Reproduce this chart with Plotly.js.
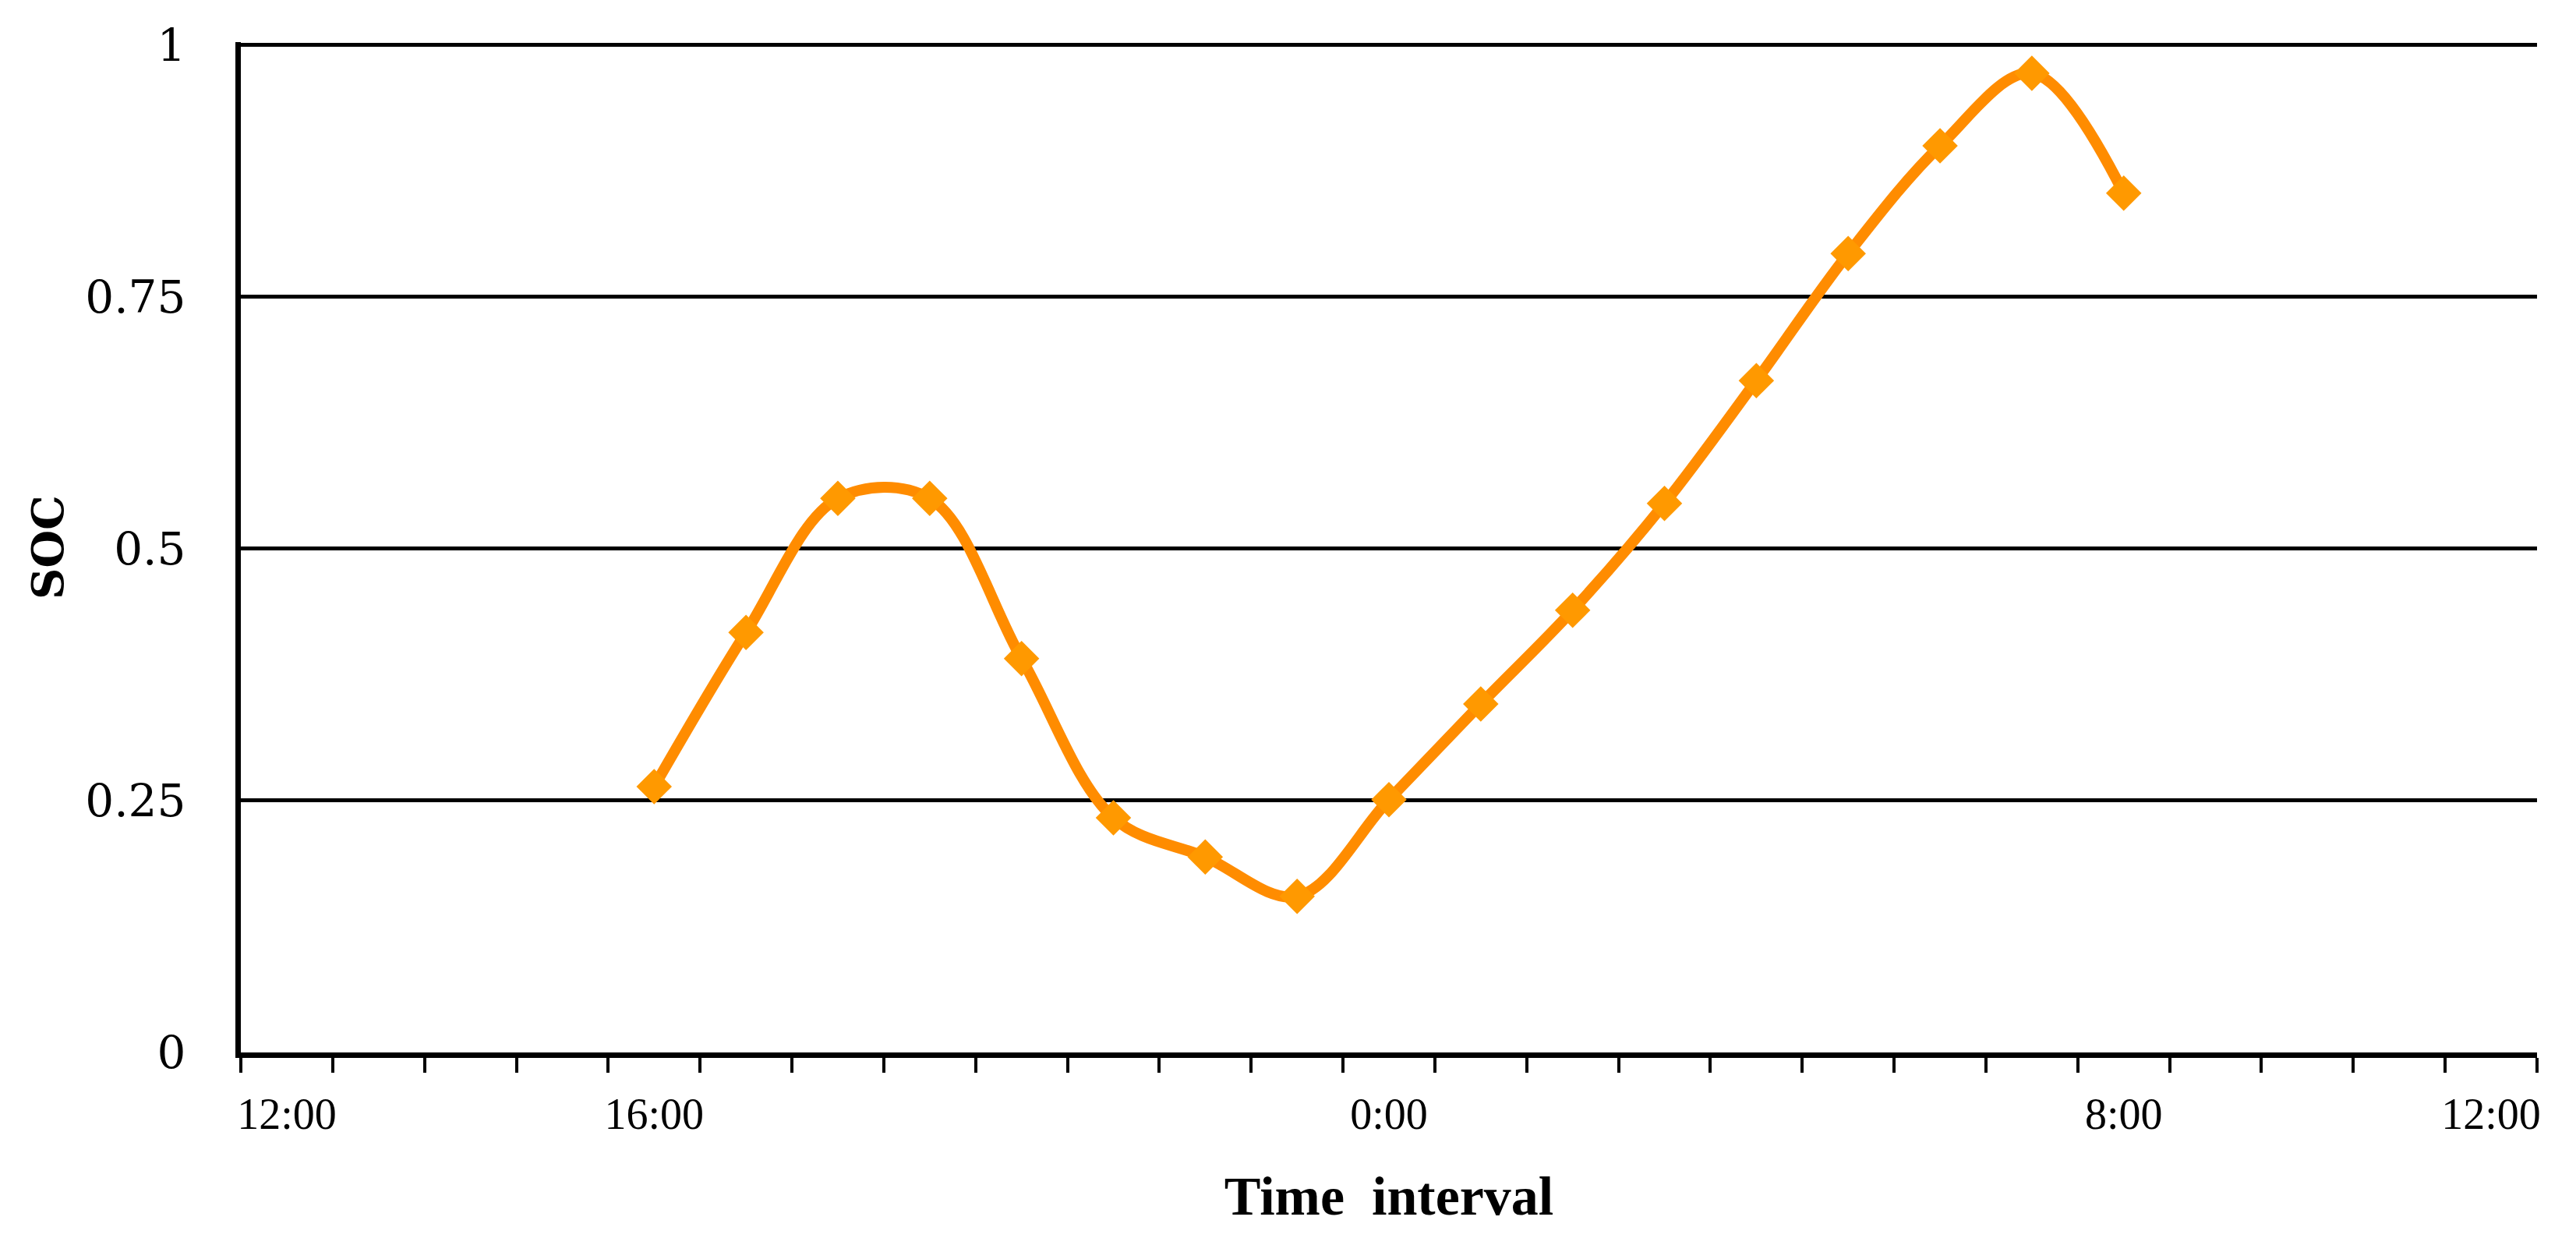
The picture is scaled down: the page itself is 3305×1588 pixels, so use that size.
<!DOCTYPE html>
<html>
<head>
<meta charset="utf-8">
<script src="https://cdn.plot.ly/plotly-3.0.1.min.js"></script>
<style>html,body{margin:0;padding:0;background:#fff;}#chart{width:3305px;height:1588px;}</style>
</head>
<body>
<div id="chart"></div>
<script>
// Hourly category slots on the x axis (12:00 to 12:00 next day)
const axisSlots = ['12:00','13:00','14:00','15:00','16:00','17:00','18:00','19:00','20:00','21:00','22:00','23:00',
                   '0:00','1:00','2:00','3:00','4:00','5:00','6:00','7:00','8:00','9:00','10:00','11:00','12:00 '];
// Tick labels shown under the slots (blank where the reference shows none)
const axisLabels = ['12:00','','','','16:00','','','','','','','',
                    '0:00','','','','','','','','8:00','','','','12:00'];
// Series
const times = ['16:00','17:00','18:00','19:00','20:00','21:00','22:00','23:00',
               '0:00','1:00','2:00','3:00','4:00','5:00','6:00','7:00','8:00'];
const soc = [0.264,0.417,0.550,0.550,0.391,0.233,0.194,0.155,
             0.251,0.346,0.439,0.545,0.667,0.793,0.900,0.972,0.853];
const yTicks = [0,0.25,0.5,0.75,1];
const yTickText = ['0','0.25','0.5','0.75','1'];

const trace = {
  x: times, y: soc, type: 'scatter', mode: 'lines+markers',
  line: {color: '#FF8C00', width: 14, shape: 'spline', smoothing: 1},
  marker: {symbol: 'diamond', size: 35, color: '#FF9900'},
  showlegend: false, hoverinfo: 'skip'
};

const layout = {
  width: 3305, height: 1588,
  margin: {l: 309, r: 50, t: 54, b: 238, pad: 0},
  paper_bgcolor: '#ffffff', plot_bgcolor: '#ffffff',
  showlegend: false,
  xaxis: {
    type: 'category', categoryorder: 'array', categoryarray: axisSlots,
    range: [-0.5, axisSlots.length - 0.5],
    tickmode: 'array', tickvals: axisSlots, ticktext: axisLabels,
    tickson: 'boundaries', tickangle: 0,
    ticks: 'outside', ticklen: 19, tickwidth: 4, tickcolor: '#000',
    showline: true, linecolor: '#000', linewidth: 7,
    showgrid: false, zeroline: false,
    ticklabelstandoff: 24,
    tickfont: {family: 'Liberation Serif', size: 56, color: '#000'},
    title: {text: 'Time  interval', standoff: 52,
            font: {family: 'Liberation Serif', size: 70, color: '#000', weight: 'bold'}}
  },
  yaxis: {
    range: [0, 1.003], tickmode: 'array', tickvals: yTicks, ticktext: yTickText,
    ticks: '', showline: true, linecolor: '#000', linewidth: 7,
    showgrid: true, gridcolor: '#000', gridwidth: 5, zeroline: false,
    ticklabelstandoff: 52,
    tickfont: {family: 'DejaVu Serif', size: 58, color: '#000'},
    title: {text: 'SOC', standoff: 12,
            font: {family: 'DejaVu Serif', size: 56, color: '#000', weight: 'bold'}}
  }
};

Plotly.newPlot('chart', [trace], layout, {staticPlot: true, displayModeBar: false});
</script>
</body>
</html>
